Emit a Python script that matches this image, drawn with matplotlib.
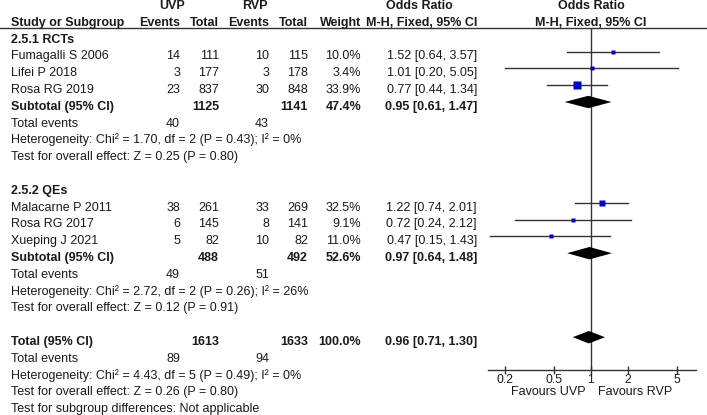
"""
Forest plot: UVP vs RVP, Mantel-Haenszel fixed-effect odds ratios,
RCT and QE subgroups (RevMan layout).
"""

import numpy as np
import matplotlib
matplotlib.use("Agg")
import matplotlib.pyplot as plt

plt.rcParams["font.family"] = ["Liberation Sans", "DejaVu Sans"]

# ---------------------------------------------------------------------------
# Data
# ---------------------------------------------------------------------------
studies    = ["Fumagalli S 2006", "Lifei P 2018", "Rosa RG 2019",
              "Malacarne P 2011", "Rosa RG 2017", "Xueping J 2021"]
group_idx  = [0, 0, 0, 1, 1, 1]
uvp_events = [14, 3, 23, 38, 6, 5]
uvp_total  = [111, 177, 837, 261, 145, 82]
rvp_events = [10, 3, 30, 33, 8, 10]
rvp_total  = [115, 178, 848, 269, 141, 82]
weight     = [10.0, 3.4, 33.9, 32.5, 9.1, 11.0]
or_est     = [1.52, 1.01, 0.77, 1.22, 0.72, 0.47]
or_lo      = [0.64, 0.20, 0.44, 0.74, 0.24, 0.15]
or_hi      = [3.57, 5.05, 1.34, 2.01, 2.12, 1.43]

groups         = ["2.5.1 RCTs", "2.5.2 QEs"]
sub_uvp_total  = [1125, 488]
sub_rvp_total  = [1141, 492]
sub_weight     = [47.4, 52.6]
sub_est        = [0.95, 0.97]
sub_lo         = [0.61, 0.64]
sub_hi         = [1.47, 1.48]
sub_uvp_events = [40, 49]
sub_rvp_events = [43, 51]
sub_het        = ["Chi\u00b2 = 1.70, df = 2 (P = 0.43); I\u00b2 = 0%",
                  "Chi\u00b2 = 2.72, df = 2 (P = 0.26); I\u00b2 = 26%"]
sub_z          = ["Z = 0.25 (P = 0.80)", "Z = 0.12 (P = 0.91)"]

tot_uvp_total, tot_rvp_total = 1613, 1633
tot_weight = 100.0
tot_est, tot_lo, tot_hi = 0.96, 0.71, 1.30
tot_uvp_events, tot_rvp_events = 89, 94
tot_het = "Chi\u00b2 = 4.43, df = 5 (P = 0.49); I\u00b2 = 0%"
tot_z = "Z = 0.26 (P = 0.80)"
subgroup_diff = "Not applicable"

tick_vals   = [0.2, 0.5, 1, 2, 5]
tick_labels = ["0.2", "0.5", "1", "2", "5"]

# ---------------------------------------------------------------------------
# Layout (pixels)
# ---------------------------------------------------------------------------
W, H = 707, 415
ROW0, ROW_H = 4.7, 16.8          # text row centres
FS = 9.0
TXT = "#1a1a1a"

X_NAME = 11
X_UE, X_UT, X_RE, X_RT, X_W, X_OR = 180, 219, 269, 308, 361, 477


def ypix(k):
    return ROW0 + ROW_H * k


fig = plt.figure(figsize=(W / 100, H / 100), dpi=100)
ax_t = fig.add_axes([0, 0, 1, 1])
ax_t.set_xlim(0, W)
ax_t.set_ylim(H, 0)
ax_t.axis("off")


def put(x, k, s, ha="left", bold=False):
    ax_t.text(x, ypix(k) + 4.3, s, ha=ha, va="baseline", fontsize=FS,
              color=TXT, fontweight="bold" if bold else "normal")


# header
put(172.5, 0, "UVP", ha="center", bold=True)
put(255, 0, "RVP", ha="center", bold=True)
put(419, 0, "Odds Ratio", ha="center", bold=True)
put(591, 0, "Odds Ratio", ha="center", bold=True)
put(X_NAME, 1, "Study or Subgroup", bold=True)
put(X_UE, 1, "Events", ha="right", bold=True)
put(X_UT, 1, "Total", ha="right", bold=True)
put(X_RE, 1, "Events", ha="right", bold=True)
put(X_RT, 1, "Total", ha="right", bold=True)
put(X_W, 1, "Weight", ha="right", bold=True)
put(X_OR, 1, "M-H, Fixed, 95% CI", ha="right", bold=True)
put(591, 1, "M-H, Fixed, 95% CI", ha="center", bold=True)
ax_t.axhline(28.3, color="#333333", lw=1.0)

# rows of each subgroup
study_rows = []
sub_rows = []
start = [2, 11]
for g, name in enumerate(groups):
    k = start[g]
    put(X_NAME, k, name, bold=True)
    k += 1
    for i in range(len(studies)):
        if group_idx[i] != g:
            continue
        put(X_NAME, k, studies[i])
        put(X_UE, k, str(uvp_events[i]), ha="right")
        put(X_UT, k, str(uvp_total[i]), ha="right")
        put(X_RE, k, str(rvp_events[i]), ha="right")
        put(X_RT, k, str(rvp_total[i]), ha="right")
        put(X_W, k, f"{weight[i]:.1f}%", ha="right")
        put(X_OR, k, f"{or_est[i]:.2f} [{or_lo[i]:.2f}, {or_hi[i]:.2f}]",
            ha="right")
        study_rows.append(k)
        k += 1
    put(X_NAME, k, "Subtotal (95% CI)", bold=True)
    put(X_UT, k, str(sub_uvp_total[g]), ha="right", bold=True)
    put(X_RT, k, str(sub_rvp_total[g]), ha="right", bold=True)
    put(X_W, k, f"{sub_weight[g]:.1f}%", ha="right", bold=True)
    put(X_OR, k, f"{sub_est[g]:.2f} [{sub_lo[g]:.2f}, {sub_hi[g]:.2f}]",
        ha="right", bold=True)
    sub_rows.append(k)
    put(X_NAME, k + 1, "Total events")
    put(X_UE, k + 1, str(sub_uvp_events[g]), ha="right")
    put(X_RE, k + 1, str(sub_rvp_events[g]), ha="right")
    put(X_NAME, k + 2, "Heterogeneity: " + sub_het[g])
    put(X_NAME, k + 3, "Test for overall effect: " + sub_z[g])

# overall
kt = 20
put(X_NAME, kt, "Total (95% CI)", bold=True)
put(X_UT, kt, str(tot_uvp_total), ha="right", bold=True)
put(X_RT, kt, str(tot_rvp_total), ha="right", bold=True)
put(X_W, kt, f"{tot_weight:.1f}%", ha="right", bold=True)
put(X_OR, kt, f"{tot_est:.2f} [{tot_lo:.2f}, {tot_hi:.2f}]", ha="right",
    bold=True)
put(X_NAME, kt + 1, "Total events")
put(X_UE, kt + 1, str(tot_uvp_events), ha="right")
put(X_RE, kt + 1, str(tot_rvp_events), ha="right")
put(X_NAME, kt + 2, "Heterogeneity: " + tot_het)
put(X_NAME, kt + 3, "Test for overall effect: " + tot_z)
put(X_NAME, kt + 4, "Test for subgroup differences: " + subgroup_diff)

# favours labels, just under the tick labels
ax_t.text(586, 395, "Favours UVP", ha="right", va="baseline", fontsize=FS,
          color=TXT)
ax_t.text(598, 395, "Favours RVP", ha="left", va="baseline", fontsize=FS,
          color=TXT)

# ---------------------------------------------------------------------------
# Forest panel (log odds-ratio axis)
# ---------------------------------------------------------------------------
px_l, px_r, px_top, px_bot = 488, 696, 28.3, 370
ax_f = fig.add_axes([px_l / W, 1 - px_bot / H,
                     (px_r - px_l) / W, (px_bot - px_top) / H])
ax_f.patch.set_alpha(0)
ax_f.set_xscale("log")
ax_f.set_xlim(0.1454, 7.14)
mark_off = -3.5                 # marks sit a little above the text centre
r_top = (px_top - ROW0 - mark_off) / ROW_H
r_bot = (px_bot - ROW0 - mark_off) / ROW_H
ax_f.set_ylim(r_bot, r_top)

for s in ["top", "left", "right"]:
    ax_f.spines[s].set_visible(False)
ax_f.spines["bottom"].set_color("#333333")
ax_f.spines["bottom"].set_linewidth(1.0)
ax_f.set_yticks([])
ax_f.set_xticks(tick_vals)
ax_f.set_xticklabels(tick_labels)
ax_f.xaxis.set_minor_locator(matplotlib.ticker.NullLocator())
ax_f.tick_params(axis="x", direction="inout", length=6, width=1,
                 color="#333333", labelsize=8.8, labelcolor=TXT, pad=0)

ax_f.axvline(1, color="#333333", lw=1.0, zorder=1)

for i, k in enumerate(study_rows):
    ax_f.plot([or_lo[i], or_hi[i]], [k, k], color="#333333", lw=1.0,
              zorder=2)
    ax_f.plot(or_est[i], k, marker="s", color="#0000c8", mec="none",
              ms=0.72 * np.sqrt(weight[i]) + 0.9, zorder=3)

DH = 0.37


def diamond(k, est, lo, hi):
    ax_f.fill([lo, est, hi, est], [k, k - DH, k, k + DH], color="black",
              lw=0, zorder=3)


for g, k in enumerate(sub_rows):
    diamond(k, sub_est[g], sub_lo[g], sub_hi[g])
diamond(kt, tot_est, tot_lo, tot_hi)

fig.savefig("out.png", dpi=100, facecolor="white")
